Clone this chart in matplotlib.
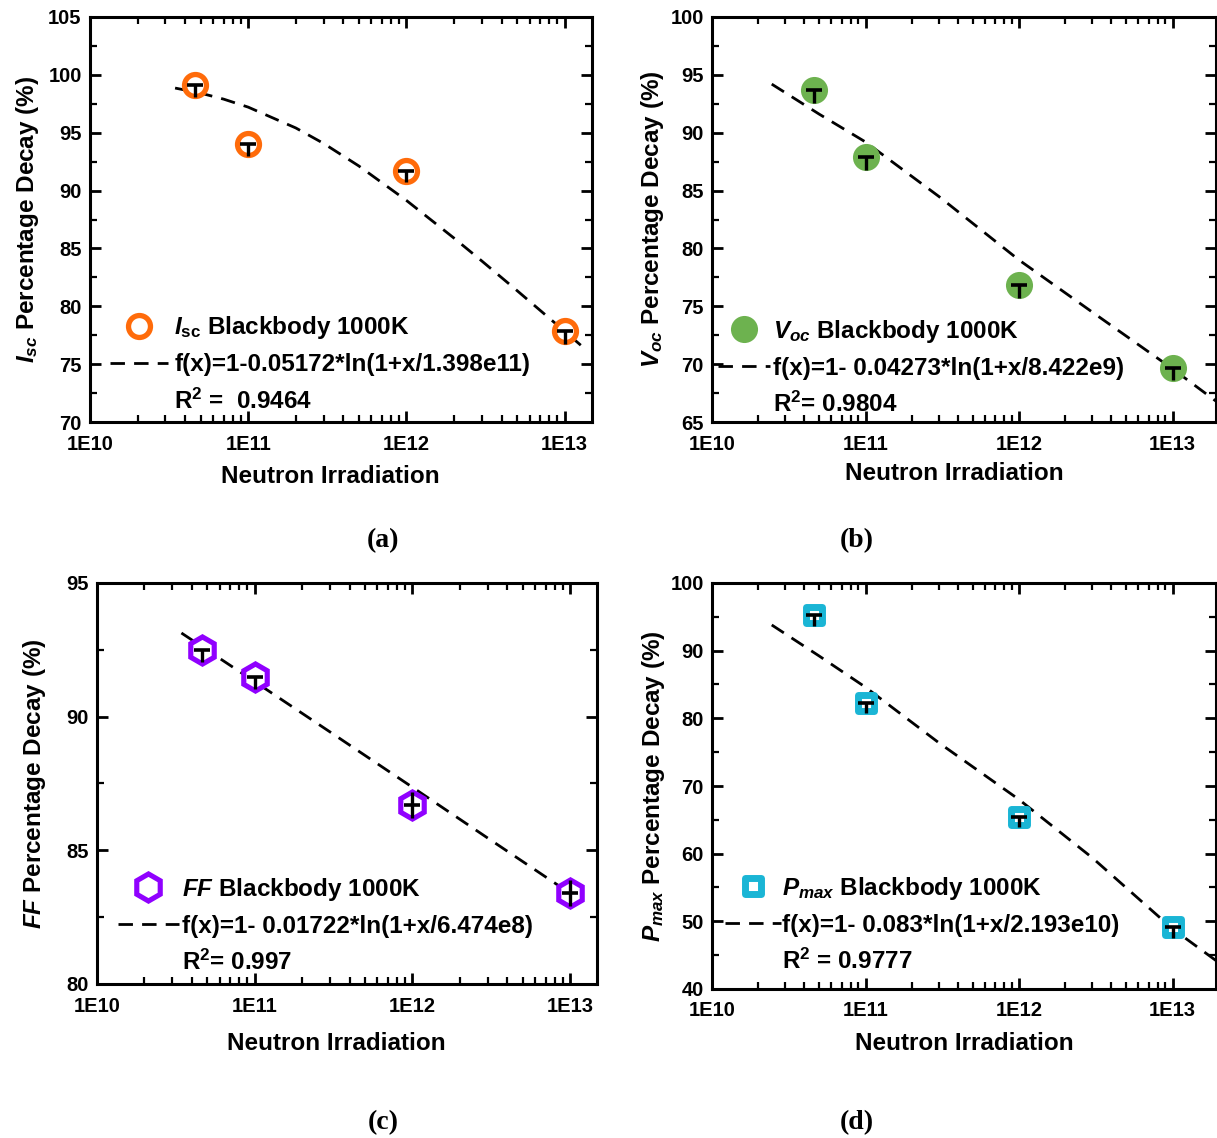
import matplotlib
matplotlib.use('Agg')
import matplotlib.pyplot as plt
from matplotlib.markers import MarkerStyle
from matplotlib.ticker import FixedLocator, FixedFormatter, LogLocator, MultipleLocator, NullFormatter

plt.rcParams['font.family'] = ['Liberation Sans', 'DejaVu Sans']
plt.rcParams['font.weight'] = 'bold'
plt.rcParams['mathtext.fontset'] = 'custom'
plt.rcParams['mathtext.rm'] = 'Liberation Sans:bold'
plt.rcParams['mathtext.it'] = 'Liberation Sans:italic:bold'
plt.rcParams['mathtext.bf'] = 'Liberation Sans:bold'

# ---------------- data ----------------
fluence = [4.6e10, 1e11, 1e12, 1e13]
xtick_vals = [1e10, 1e11, 1e12, 1e13]
xtick_labels = ['1E10', '1E11', '1E12', '1E13']

isc = [99.1, 94.0, 91.7, 77.85]
isc_err_lo = [1.0, 1.0, 1.0, 1.1]
isc_err_hi = [0.0, 0.0, 0.0, 0.0]
isc_fit_x = [3.45e10, 5e10, 7e10, 1e11, 2e11, 3e11, 5e11, 1e12, 2e12, 3e12, 5e12, 1e13, 1.4e13]
isc_fit_y = [98.86, 98.42, 97.90, 97.21, 95.41, 94.07, 92.13, 89.15, 85.89, 83.91, 81.36, 77.84, 76.12]

voc = [93.7, 87.9, 76.8, 69.7]
voc_err_lo = [1.1, 1.1, 1.1, 1.1]
voc_err_hi = [0.0, 0.0, 0.0, 0.0]
voc_fit_x = [2.45e10, 5e10, 1e11, 3e11, 1e12, 3e12, 1e13, 1.92e13]
voc_fit_y = [94.2, 91.6, 89.2, 84.5, 79.0, 74.5, 69.6, 66.8]

ff = [92.5, 91.5, 86.7, 83.4]
ff_err_lo = [0.45, 0.45, 0.5, 0.5]
ff_err_hi = [0.0, 0.0, 0.5, 0.5]
ff_fit_x = [3.43e10, 1e11, 3e11, 1e12, 3e12, 8.5e12]
ff_fit_y = [93.13, 91.31, 89.43, 87.36, 85.46, 83.67]

pmax = [95.2, 82.3, 65.4, 49.1]
pmax_err_lo = [1.5, 1.5, 1.5, 1.5]
pmax_err_hi = [0.0, 0.0, 0.0, 0.0]
pmax_fit_x = [2.45e10, 5e10, 1e11, 3e11, 1e12, 3e12, 1e13, 1.92e13]
pmax_fit_y = [93.8, 89.2, 84.6, 76.4, 68.0, 59.4, 48.9, 44.2]

# ---------------- figure ----------------
W, H = 1217, 1138
fig = plt.figure(figsize=(W / 100, H / 100), dpi=100)


def px_axes(left, top, right, bottom):
    return fig.add_axes([left / W, 1 - bottom / H, (right - left) / W, (bottom - top) / H])


FS_TICK = 14.5
FS_LAB = 17.5
LW_FIT = 2.0
dash = (0, (5.2, 3.3))


def setup(ax, xlim, ylim, ymaj, ymin, ylabel, ylabel_x, xlabel_xy):
    ax.set_xscale('log')
    ax.set_xlim(*xlim)
    ax.set_ylim(*ylim)
    ax.xaxis.set_major_locator(FixedLocator(xtick_vals))
    ax.xaxis.set_major_formatter(FixedFormatter(xtick_labels))
    ax.xaxis.set_minor_locator(LogLocator(base=10, subs=range(2, 10), numticks=20))
    ax.xaxis.set_minor_formatter(NullFormatter())
    ax.yaxis.set_major_locator(MultipleLocator(ymaj))
    ax.yaxis.set_minor_locator(MultipleLocator(ymin))
    ax.tick_params(which='both', direction='in', top=True, right=True,
                   labelsize=FS_TICK)
    ax.tick_params(axis='x', which='both', pad=9)
    ax.tick_params(axis='y', which='both', pad=6)
    ax.tick_params(which='major', length=8, width=2)
    ax.tick_params(which='minor', length=5, width=1.6)
    for s in ax.spines.values():
        s.set_linewidth(2.2)
    ax.set_xlabel('Neutron Irradiation', fontsize=FS_LAB, fontweight='bold')
    ax.xaxis.set_label_coords(*xlabel_xy)
    ax.set_ylabel(ylabel, fontsize=FS_LAB, fontweight='bold')
    ax.yaxis.set_label_coords(ylabel_x, 0.5)


def draw(ax, y, lo, hi, fx, fy, mk, legend_labels, anchor, hlen, hpad):
    ax.plot(fx, fy, ls=dash, color='k', lw=LW_FIT, zorder=2)
    h1, = ax.plot(fluence, y, ls='none', zorder=3, **mk)
    ax.errorbar(fluence, y, yerr=[lo, hi], fmt='none', ecolor='k',
                elinewidth=2.4, capsize=0, zorder=4)
    ax.plot(fluence, y, ls='none', marker='_', ms=11.5, mew=2.6, color='k', zorder=5)
    h2, = ax.plot([], [], ls=dash, color='k', lw=LW_FIT)
    h3, = ax.plot([], [], ls='none')
    ax.legend([h1, h2, h3], legend_labels, loc='center left', bbox_to_anchor=anchor,
              frameon=False, handlelength=hlen, handletextpad=hpad, labelspacing=0.5,
              borderpad=0, borderaxespad=0, prop={'size': FS_LAB, 'weight': 'bold'})


# (a) Isc
axa = px_axes(90, 17, 592, 422)
setup(axa, (1e10, 1.49e13), (70, 105), 5, 2.5, r'$I_{sc}$ Percentage Decay (%)', -0.098, (0.478, -0.105))
draw(axa, isc, isc_err_lo, isc_err_hi, isc_fit_x, isc_fit_y,
     dict(marker='o', ms=15.8, mew=3.8, mec='#FF6B0A', mfc='white'),
     [r'$I_{\mathrm{sc}}$ Blackbody 1000K', 'f(x)=1-0.05172*ln(1+x/1.398e11)', r'R$^2$ =  0.9464'],
     (0.04, 0.143), 2.4, 0.25)

# (b) Voc
axb = px_axes(712, 17, 1216, 422)
setup(axb, (1e10, 1.92e13), (65, 100), 5, 2.5, r'$V_{oc}$ Percentage Decay (%)', -0.092, (0.48, -0.1))
draw(axb, voc, voc_err_lo, voc_err_hi, voc_fit_x, voc_fit_y,
     dict(marker='o', ms=19.5, mew=0, mfc='#6DB24F', mec='#6DB24F'),
     [r'$V_{oc}$ Blackbody 1000K', 'f(x)=1- 0.04273*ln(1+x/8.422e9)', r'R$^2$= 0.9804'],
     (0.012, 0.135), 2.15, 0.1)

# (c) FF
axc = px_axes(97, 583, 597, 984)
setup(axc, (1e10, 1.48e13), (80, 95), 5, 2.5, r'$FF$ Percentage Decay (%)', -0.098, (0.478, -0.12))
draw(axc, ff, ff_err_lo, ff_err_hi, ff_fit_x, ff_fit_y,
     dict(marker='h', ms=19.5, mew=3.7, mec='#9000FF', mfc='white'),
     [r'$FF$ Blackbody 1000K', 'f(x)=1- 0.01722*ln(1+x/6.474e8)', r'R$^2$= 0.997'],
     (0.042, 0.146), 2.5, 0.12)

# (d) Pmax
axd = px_axes(712, 583, 1216, 989)
setup(axd, (1e10, 1.92e13), (40, 100), 10, 5, r'$P_{max}$ Percentage Decay (%)', -0.089, (0.5, -0.107))
draw(axd, pmax, pmax_err_lo, pmax_err_hi, pmax_fit_x, pmax_fit_y,
     dict(marker=MarkerStyle('s', joinstyle='round'), ms=12, mew=5, mec='#1AB5D5', mfc='white'),
     [r'$P_{max}$ Blackbody 1000K', 'f(x)=1- 0.083*ln(1+x/2.193e10)', r'R$^2$ = 0.9777'],
     (0.026, 0.159), 2.3, 0.05)

for lab, x, y in [('(a)', 383, 541), ('(b)', 857, 541), ('(c)', 383, 1123), ('(d)', 857, 1123)]:
    fig.text(x / W, 1 - y / H, lab, ha='center', va='center',
             family=['Liberation Serif', 'DejaVu Serif'], weight='bold', size=20)

fig.savefig('out.png', dpi=100)
